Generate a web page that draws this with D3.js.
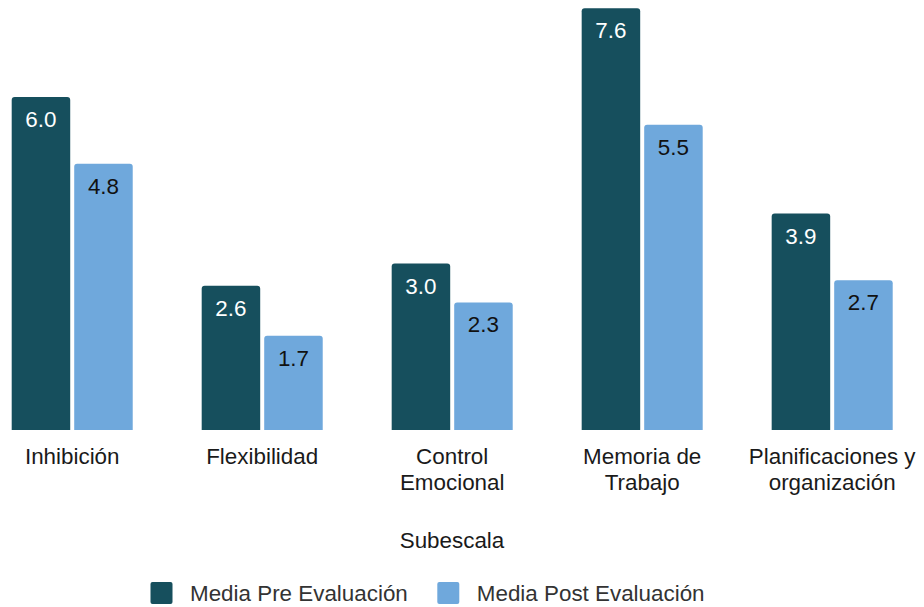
<!DOCTYPE html>
<html>
<head>
<meta charset="utf-8">
<script src="https://cdn.jsdelivr.net/npm/d3@7"></script>
<style>
  html, body { margin: 0; padding: 0; background: #fff; }
  svg { display: block; font-family: "Liberation Sans", Arial, sans-serif; }
</style>
</head>
<body>
<svg id="chart" width="924" height="607"></svg>
<script>
const categories = ["Inhibición", "Flexibilidad", "Control Emocional", "Memoria de Trabajo", "Planificaciones y organización"];
const categoryLines = [["Inhibición"], ["Flexibilidad"], ["Control", "Emocional"], ["Memoria de", "Trabajo"], ["Planificaciones y", "organización"]];
const seriesNames = ["Media Pre Evaluación", "Media Post Evaluación"];
const preValues = [6.0, 2.6, 3.0, 7.6, 3.9];
const postValues = [4.8, 1.7, 2.3, 5.5, 2.7];
const axisTitle = "Subescala";

const colors = ["#164f5d", "#6fa8dc"];
const labelColors = ["#ffffff", "#111111"];
const FS = 22.4;

const svg = d3.select("#chart");

const x0 = d3.scaleBand().domain(categories).range([11.7, 892.7]).paddingInner(0.363).paddingOuter(0);
const x1 = d3.scaleBand().domain(seriesNames).range([0, x0.bandwidth()]).paddingInner(0.064).paddingOuter(0);
const y = d3.scaleLinear().domain([0, 7.75]).range([430, 0]);

const data = categories.map((c, i) => ({cat: c, vals: [preValues[i], postValues[i]]}));

function topRounded(x, yTop, w, h, r) {
  r = Math.min(r, h, w / 2);
  return `M${x},${yTop + h}V${yTop + r}Q${x},${yTop} ${x + r},${yTop}H${x + w - r}Q${x + w},${yTop} ${x + w},${yTop + r}V${yTop + h}Z`;
}

const groups = svg.selectAll("g.grp").data(data).enter().append("g")
  .attr("class", "grp")
  .attr("transform", d => `translate(${x0(d.cat)},0)`);

groups.selectAll("path").data(d => d.vals.map((v, k) => ({v, k, s: seriesNames[k]}))).enter().append("path")
  .attr("d", d => topRounded(x1(d.s), y(d.v), x1.bandwidth(), y(0) - y(d.v), 3))
  .attr("fill", d => colors[d.k]);

groups.selectAll("text.val").data(d => d.vals.map((v, k) => ({v, k, s: seriesNames[k]}))).enter().append("text")
  .attr("class", "val")
  .attr("x", d => x1(d.s) + x1.bandwidth() / 2)
  .attr("y", d => y(d.v) + 30)
  .attr("text-anchor", "middle")
  .attr("font-size", FS)
  .attr("fill", d => labelColors[d.k])
  .text(d => d3.format(".1f")(d.v));

// category labels
categories.forEach((c, i) => {
  const t = svg.append("text")
    .attr("x", x0(c) + x0.bandwidth() / 2)
    .attr("y", 464)
    .attr("text-anchor", "middle")
    .attr("font-size", FS)
    .attr("fill", "#1a1a1a");
  categoryLines[i].forEach((line, j) => {
    t.append("tspan").attr("x", x0(c) + x0.bandwidth() / 2).attr("dy", j === 0 ? 0 : 26).text(line);
  });
});

// axis title
svg.append("text")
  .attr("x", 452)
  .attr("y", 548)
  .attr("text-anchor", "middle")
  .attr("font-size", FS)
  .attr("fill", "#1a1a1a")
  .text(axisTitle);

// legend
const legendX = [150.5, 437.3];
seriesNames.forEach((s, k) => {
  svg.append("rect")
    .attr("x", legendX[k]).attr("y", 582)
    .attr("width", 22).attr("height", 22)
    .attr("rx", 2)
    .attr("fill", colors[k]);
  svg.append("text")
    .attr("x", legendX[k] + 39.5).attr("y", 601)
    .attr("font-size", FS)
    .attr("fill", "#333333")
    .text(s);
});
</script>
</body>
</html>
